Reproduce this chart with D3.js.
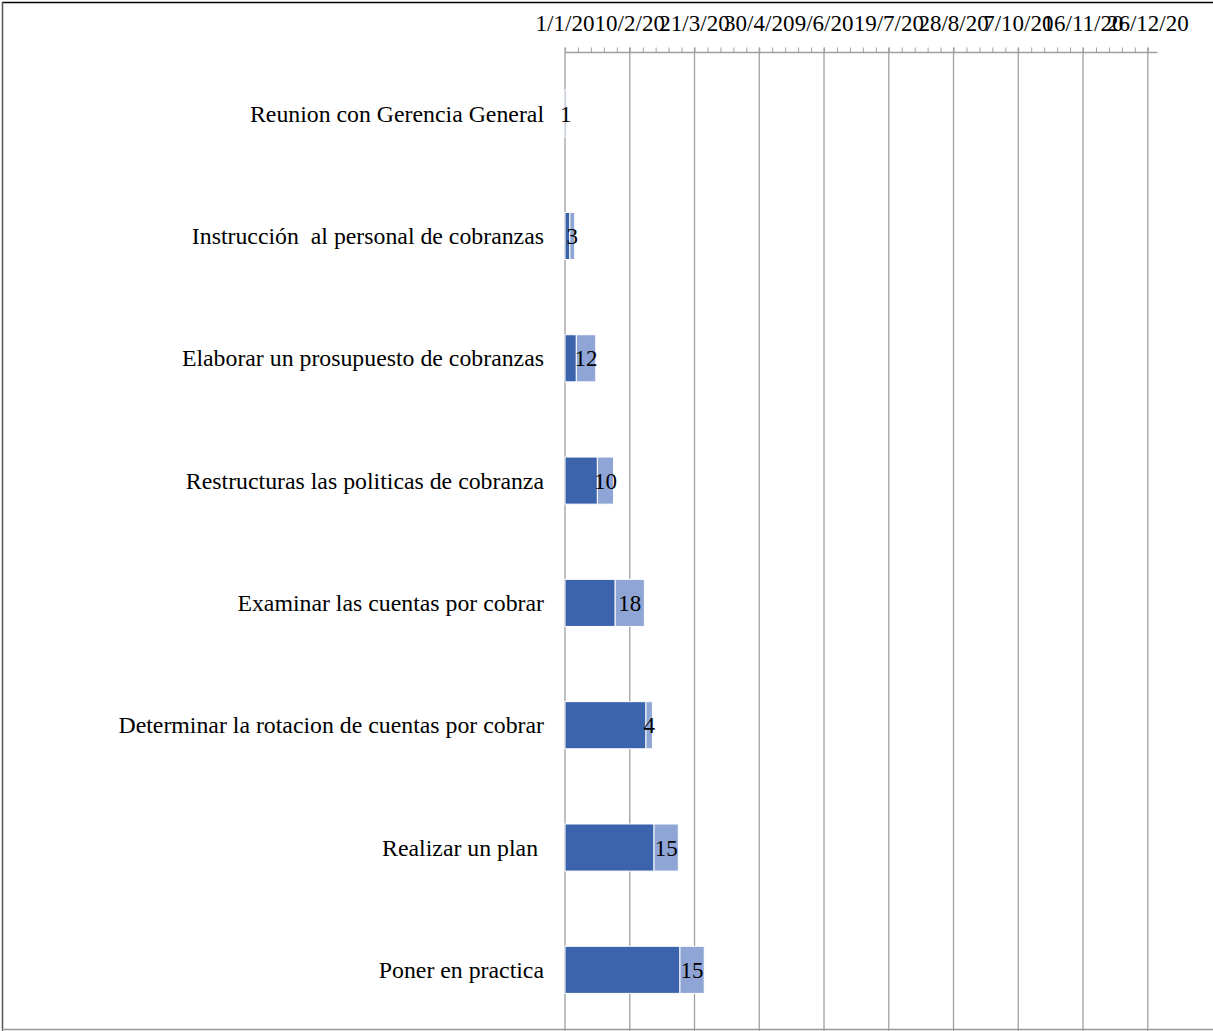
<!DOCTYPE html>
<html>
<head>
<meta charset="utf-8">
<script src="https://cdn.jsdelivr.net/npm/d3@7"></script>
<style>
  body { margin: 0; background: #fff; }
  text { font-family: "Liberation Serif", "Times New Roman", serif; }
</style>
</head>
<body>
<svg id="chart" width="1213" height="1031"></svg>
<script>
// tasks of the cobranzas plan
var tasks = ["Reunion con Gerencia General", "Instrucción  al personal de cobranzas", "Elaborar un prosupuesto de cobranzas",
  "Restructuras las politicas de cobranza", "Examinar las cuentas por cobrar", "Determinar la rotacion de cuentas por cobrar",
  "Realizar un plan ", "Poner en practica"];
var startDates = ["2020-01-01", "2020-01-04", "2020-01-08", "2020-01-21", "2020-02-01", "2020-02-20", "2020-02-25", "2020-03-12"];
var durations = [1, 3, 12, 10, 18, 4, 15, 15];
var tickDates = ["2020-01-01", "2020-02-10", "2020-03-21", "2020-04-30", "2020-06-09", "2020-07-19", "2020-08-28", "2020-10-07", "2020-11-16", "2020-12-26"];
var axisStart = "2020-01-01", axisEnd = "2021-01-01";

var parse = d3.timeParse("%Y-%m-%d");
var fmt = d3.timeFormat("%-d/%-m/%y");
var darkBlue = "#3c64ac", lightBlue = "#8fa5d5";

var svg = d3.select("#chart");
var plotTop = 52.5, plotBottom = 1031, plotLeft = 565;

var x = d3.scaleTime().domain([parse(axisStart), parse(axisEnd)]).range([plotLeft, 1157.5]);
var y = d3.scaleBand().domain(tasks).range([plotTop, plotBottom]);
var barH = y.bandwidth() * 0.385;

// frame
svg.append("line").attr("x1", 2).attr("x2", 1213).attr("y1", 2.5).attr("y2", 2.5).attr("stroke", "#000").attr("stroke-width", 1.5);
svg.append("line").attr("x1", 2.5).attr("x2", 2.5).attr("y1", 2).attr("y2", 1031).attr("stroke", "#555").attr("stroke-width", 1.5);
svg.append("line").attr("x1", 2).attr("x2", 1213).attr("y1", 1029.5).attr("y2", 1029.5).attr("stroke", "#999").attr("stroke-width", 1.5);

// grid lines on the major ticks
var ticks = tickDates.map(parse);
svg.append("g").selectAll("line").data(ticks).enter().append("line")
  .attr("x1", d => x(d)).attr("x2", d => x(d))
  .attr("y1", plotTop - 5).attr("y2", plotBottom)
  .attr("stroke", "#a0a0a0").attr("stroke-width", 1.3);

// top axis, minor ticks every 8 days
var minor = d3.timeDay.every(1).range(parse(axisStart), parse(axisEnd)).filter((d, i) => i % 8 == 0);
var xAxis = d3.axisTop(x).tickValues(minor).tickSize(5).tickFormat("");
var ax = svg.append("g").attr("transform", "translate(0," + plotTop + ")").call(xAxis);
ax.select(".domain").attr("stroke", "#a0a0a0").attr("stroke-width", 1.3).attr("d", "M" + plotLeft + ",0H" + x(parse(axisEnd)));
ax.selectAll(".tick line").attr("stroke", "#a0a0a0").attr("stroke-width", 1);

svg.append("g").selectAll("text").data(ticks).enter().append("text")
  .attr("x", d => x(d)).attr("y", 31)
  .attr("text-anchor", "middle").attr("font-size", 23).attr("fill", "#000")
  .text(d => fmt(d));

// bars: offset (dark) + duration (light)
var rows = tasks.map((t, i) => ({task: t, start: parse(startDates[i]), dur: durations[i]}));
var g = svg.append("g");
g.selectAll("rect.off").data(rows).enter().append("rect").attr("class", "off")
  .attr("x", plotLeft).attr("y", d => y(d.task) + (y.bandwidth() - barH) / 2)
  .attr("width", d => x(d.start) - plotLeft).attr("height", barH)
  .attr("fill", darkBlue).attr("stroke", "#fff").attr("stroke-width", 1);
g.selectAll("rect.dur").data(rows).enter().append("rect").attr("class", "dur")
  .attr("x", d => x(d.start)).attr("y", d => y(d.task) + (y.bandwidth() - barH) / 2)
  .attr("width", d => x(d3.timeDay.offset(d.start, d.dur)) - x(d.start)).attr("height", barH)
  .attr("fill", lightBlue).attr("stroke", "#fff").attr("stroke-width", 1);

g.selectAll("text.val").data(rows).enter().append("text").attr("class", "val")
  .attr("x", d => (x(d.start) + x(d3.timeDay.offset(d.start, d.dur))) / 2)
  .attr("y", d => y(d.task) + y.bandwidth() / 2 + 8)
  .attr("text-anchor", "middle").attr("font-size", 23).attr("fill", "#000")
  .text(d => d.dur);

// category labels
svg.append("g").selectAll("text").data(tasks).enter().append("text")
  .attr("x", 544).attr("y", d => y(d) + y.bandwidth() / 2 + 8)
  .attr("text-anchor", "end").attr("font-size", 23.8).attr("fill", "#000")
  .style("white-space", "pre")
  .text(d => d);
</script>
</body>
</html>
